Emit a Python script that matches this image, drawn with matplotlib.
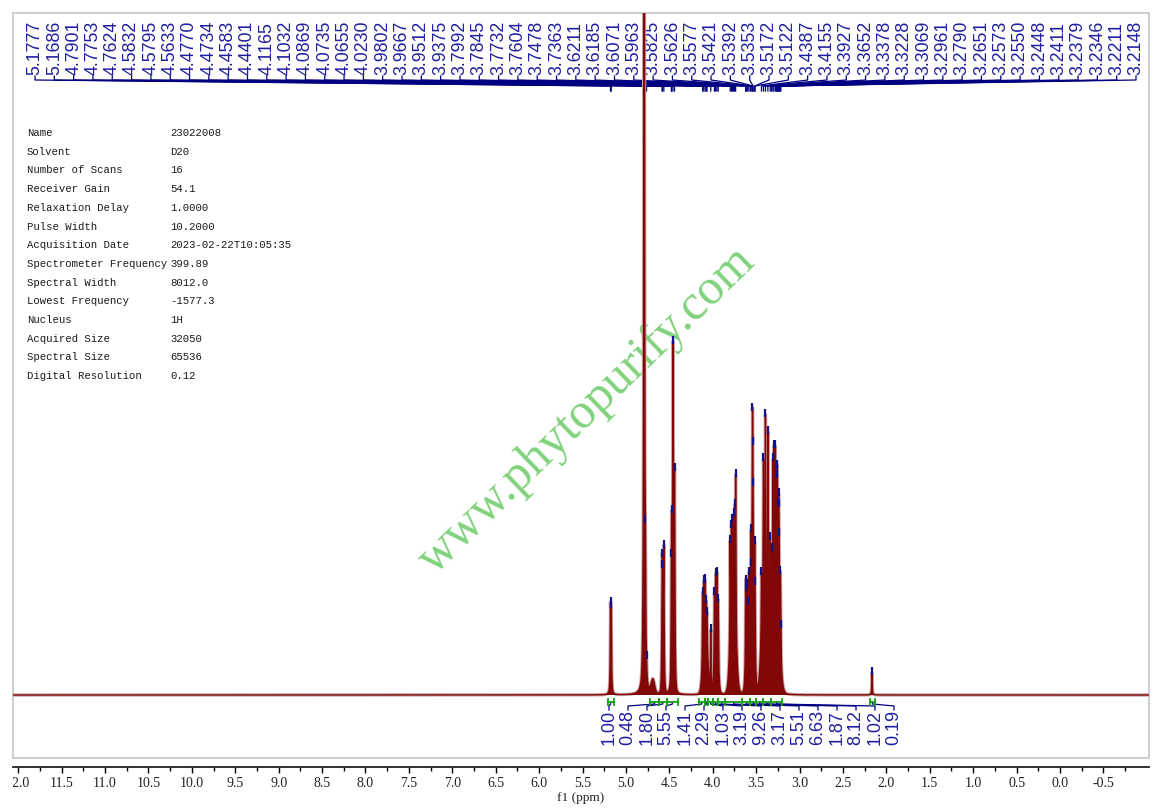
import numpy as np
import matplotlib.pyplot as plt
from matplotlib.transforms import Bbox

# picked peaks (ppm) and line amplitudes
peak_ppm = [5.1777, 5.1686, 4.7901, 4.7753, 4.7624, 4.5832, 4.5795, 4.5633,
            4.4770, 4.4734, 4.4583, 4.4401, 4.1165, 4.1032, 4.0869, 4.0735,
            4.0655, 4.0230, 3.9802, 3.9667, 3.9512, 3.9375, 3.7992, 3.7845,
            3.7732, 3.7604, 3.7478, 3.7363, 3.6211, 3.6185, 3.6071, 3.5963,
            3.5825, 3.5626, 3.5577, 3.5421, 3.5392, 3.5353, 3.5172, 3.5122,
            3.4387, 3.4155, 3.3927, 3.3652, 3.3378, 3.3228, 3.3069, 3.2961,
            3.2790, 3.2651, 3.2573, 3.2550, 3.2448, 3.2411, 3.2379, 3.2346,
            3.2211, 3.2148]
peak_amp = [82, 78, 1500, 60, 5, 60, 50, 100,
            60, 118, 244, 148, 70, 60, 48, 30,
            30, 60, 60, 48, 53, 58, 95, 70,
            55, 57, 80, 145, 45, 50, 55, 40,
            83, 32, 58, 147, 30, 70, 90, 50,
            60, 135, 190, 190, 65, 55, 135, 135,
            125, 95, 65, 55, 60, 55, 50, 50,
            75, 20]

# unpicked small line
other_ppm = [2.166]
other_amp = [22]

# broad unresolved envelopes (centre, height, width)
env_ppm = [4.787, 4.69, 4.573, 4.452, 4.085, 3.96, 3.765, 3.605, 3.545, 3.41, 3.345, 3.275]
env_amp = [60, 14, 70, 110, 60, 70, 110, 40, 100, 95, 60, 105]
env_sig = [0.011, 0.02, 0.01, 0.012, 0.025, 0.018, 0.028, 0.015, 0.02, 0.028, 0.02, 0.035]

# integrals
int_left = [5.21, 4.72, 4.62, 4.53, 4.16, 4.09, 4.05, 4.00, 3.94, 3.86, 3.66, 3.57, 3.50, 3.42, 3.33, 2.19]
int_right = [5.14, 4.62, 4.53, 4.40, 4.09, 4.05, 4.00, 3.94, 3.86, 3.66, 3.57, 3.50, 3.42, 3.33, 3.20, 2.13]
int_val = [1.00, 0.48, 1.80, 5.55, 1.41, 2.29, 1.03, 3.19, 9.26, 3.17, 5.51, 6.63, 1.87, 8.12, 1.02, 0.19]

info_keys = ["Name", "Solvent", "Number of Scans", "Receiver Gain", "Relaxation Delay",
             "Pulse Width", "Acquisition Date", "Spectrometer Frequency", "Spectral Width",
             "Lowest Frequency", "Nucleus", "Acquired Size", "Spectral Size", "Digital Resolution"]
info_vals = ["23022008", "D20", "16", "54.1", "1.0000", "10.2000", "2023-02-22T10:05:35",
             "399.89", "8012.0", "-1577.3", "1H", "32050", "65536", "0.12"]

tick_vals = [12.0, 11.5, 11.0, 10.5, 10.0, 9.5, 9.0, 8.5, 8.0, 7.5, 7.0, 6.5, 6.0,
             5.5, 5.0, 4.5, 4.0, 3.5, 3.0, 2.5, 2.0, 1.5, 1.0, 0.5, 0.0, -0.5]

X0, X1 = 12.06, -1.025
W, H = 1163, 811
L, R, T, B = 13, 1149, 13, 758

NAVY = '#12128a'
TXTBLUE = '#1f1fa0'
DARKRED = '#820808'

# build spectrum from the lines
ppm = np.linspace(X0, X1, 60000)
spec = np.zeros_like(ppm)
hw = 0.0035
for p, a in zip(peak_ppm + other_ppm, peak_amp + other_amp):
    spec += a * hw**2 / (hw**2 + (ppm - p)**2)
for c, a, s in zip(env_ppm, env_amp, env_sig):
    spec += a * np.exp(-0.5 * ((ppm - c) / s)**2)


def ax_x(px):
    return (px - L) / (R - L)


def ax_y(py):
    return (B - py) / (B - T)


def ppm_ax(p):
    return (X0 - p) / (X0 - X1)


fig = plt.figure(figsize=(W / 100, H / 100), dpi=100)
ax = fig.add_axes([L / W, 1 - B / H, (R - L) / W, (B - T) / H])
ax.set_xlim(X0, X1)
ax.set_ylim(-63, 682)
ax.set_xticks([])
ax.set_yticks([])
for s in ax.spines.values():
    s.set_color('#cfcfcf')
    s.set_linewidth(1.5)

# watermark
ax.text(ax_x(587), ax_y(410), 'www.phytopurify.com', transform=ax.transAxes,
        rotation=44, rotation_mode='anchor', ha='center', va='center',
        fontsize=36, family='Liberation Serif', color='#80d27c', zorder=1)

# spectrum
ax.plot(ppm, spec, color='#caa4a4', lw=2.4, zorder=3)
ax.fill_between(ppm, 0, spec, color=DARKRED, lw=0, zorder=4)
ax.plot(ppm, spec, color=DARKRED, lw=1.0, zorder=5)

# peak top markers
all_pk = peak_ppm + other_ppm
tops = np.interp(all_pk, ppm[::-1], spec[::-1])
ax.plot(all_pk, tops + 2, ls='none', marker='|', ms=6, mew=1.6, color=NAVY, zorder=6)

# peak labels with fan connectors
lab_px = np.linspace(35, 1136, len(peak_ppm))
for p, xp in zip(peak_ppm, lab_px):
    ax.text(ax_x(xp), ax_y(75), f"{p:.4f}", transform=ax.transAxes, rotation=90,
            ha='center', va='bottom', fontsize=12.8, family='Liberation Sans',
            color=TXTBLUE, zorder=2)
    ax.plot([ax_x(xp), ax_x(xp), ppm_ax(p), ppm_ax(p)],
            [ax_y(76), ax_y(80), ax_y(86), ax_y(91)],
            transform=ax.transAxes, color='#000080', lw=0.9, clip_on=False, zorder=2)

# integrals
for i, (a, b, v) in enumerate(zip(int_left, int_right, int_val)):
    ax.plot([a, b], [-7, -7], color='#16a016', lw=1.3, zorder=6)
    ax.plot([a, a], [-10, -4], color='#16a016', lw=1.3, zorder=6)
    ax.plot([b, b], [-10, -4], color='#16a016', lw=1.3, zorder=6)
    xl = 609 + 19 * i
    c = ppm_ax((a + b) / 2)
    ax.plot([c, c, ax_x(xl), ax_x(xl)], [ax_y(702), ax_y(704), ax_y(706), ax_y(710)],
            transform=ax.transAxes, color='#000080', lw=0.9, zorder=5)
    ax.text(ax_x(xl), ax_y(710), f"{v:.2f}", transform=ax.transAxes, rotation=90,
            ha='center', va='top', fontsize=13, family='Liberation Sans', color=TXTBLUE)

# acquisition parameters
for i, (k, v) in enumerate(zip(info_keys, info_vals)):
    y = 1 - (133 + 18.7 * i) / H
    fig.text(27 / W, y, k, fontsize=7.7, family='Liberation Mono', color='#1a1a1a', va='center')
    fig.text(170 / W, y, v, fontsize=7.7, family='Liberation Mono', color='#1a1a1a', va='center')

# x axis below the frame
axx = fig.add_axes([L / W, 1 - 767 / H, (R - L) / W, 0.0001])
axx.set_xlim(X0, X1)
axx.set_yticks([])
for s in ['left', 'right', 'top']:
    axx.spines[s].set_visible(False)
axx.spines['bottom'].set_linewidth(1.3)
axx.spines['bottom'].set_color('#222222')
axx.set_xticks(tick_vals)
axx.set_xticklabels([f"{v:.1f}" for v in tick_vals], fontsize=10, family='Liberation Serif',
                    color='#222222')
axx.set_xticks([v - 0.25 for v in tick_vals], minor=True)
axx.tick_params(which='major', length=4, width=1, pad=3)
axx.tick_params(which='minor', length=3, width=1)
axx.set_xlabel('f1 (ppm)', fontsize=9.5, family='Liberation Serif', color='#222222', labelpad=2)
clip = Bbox.from_extents(L, 0, R, H)
for lab in axx.get_xticklabels():
    lab.set_clip_box(clip)
    lab.set_clip_on(True)

fig.savefig('out.png', dpi=100)
